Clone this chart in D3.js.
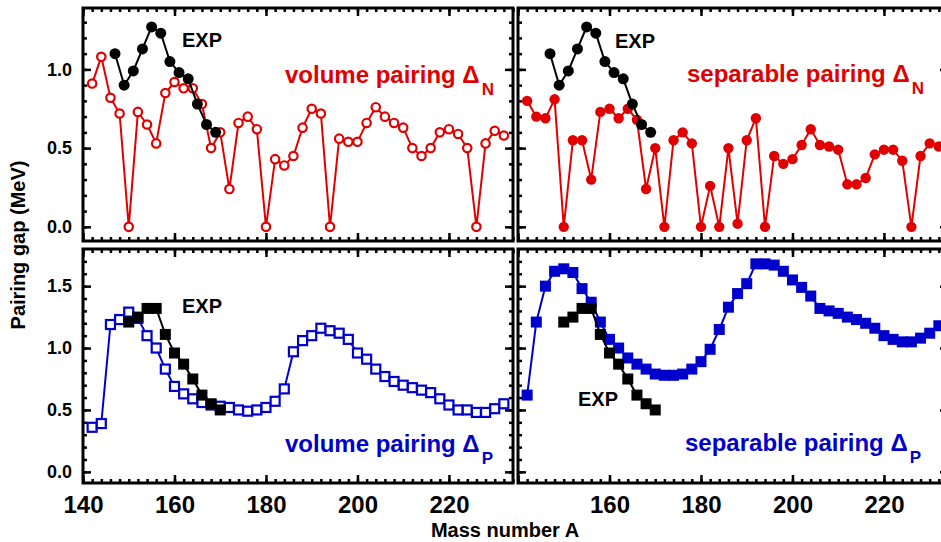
<!DOCTYPE html>
<html>
<head>
<meta charset="utf-8">
<script src="https://cdn.jsdelivr.net/npm/d3@7"></script>
<style>
	body { margin: 0; background: #fff; }
	svg { display: block; font-family: "Liberation Sans", Arial, Helvetica, sans-serif; font-weight: bold; }
</style>
</head>
<body>
<svg id="chart" width="941" height="542"></svg>
<script>
//Mass numbers of the calculated chains and of the experimental points.
var massTheo = [142,144,146,148,150,152,154,156,158,160,162,164,166,168,170,172,174,176,178,180,182,184,186,188,190,
	192,194,196,198,200,202,204,206,208,210,212,214,216,218,220,222,224,226,228,230,232];
var massExpN = [147,149,151,153,155,157,159,161,163,165,167,169];
var massExpP = [150,152,154,156,158,160,162,164,166,168,170];

//Neutron pairing gaps (MeV).
var volumeN = [0.91,1.08,0.82,0.72,0.00,0.73,0.65,0.53,0.85,0.92,0.88,0.88,0.78,0.50,0.60,0.24,0.66,0.70,0.62,0.00,0.43,0.39,
	0.45,0.63,0.75,0.72,0.00,0.56,0.54,0.54,0.66,0.76,0.70,0.66,0.63,0.50,0.45,0.50,0.60,0.62,0.59,0.50,0.00,0.53,0.61,0.58];
var separableN = [0.80,0.70,0.69,0.81,0.00,0.55,0.55,0.30,0.73,0.75,0.69,0.75,0.68,0.24,0.50,0.00,0.55,0.60,0.53,0.00,0.26,0.00,
	0.50,0.02,0.55,0.69,0.00,0.45,0.40,0.43,0.52,0.62,0.52,0.51,0.49,0.27,0.27,0.31,0.46,0.49,0.49,0.42,0.00,0.45,0.53,0.51];
var expN = [1.10,0.90,0.99,1.13,1.27,1.23,1.05,0.98,0.94,0.78,0.65,0.60];

//Proton pairing gaps (MeV).
var volumeP = [0.36,0.39,1.19,1.23,1.29,1.24,1.10,1.00,0.83,0.69,0.63,0.59,0.56,0.54,0.53,0.52,0.50,0.49,0.50,0.52,0.57,0.67,
	0.97,1.06,1.10,1.16,1.14,1.12,1.07,0.96,0.91,0.83,0.77,0.73,0.70,0.68,0.66,0.64,0.59,0.54,0.50,0.50,0.48,0.48,0.51,0.55];
var separableP = [0.62,1.21,1.50,1.62,1.64,1.61,1.48,1.37,1.21,1.07,1.00,0.92,0.87,0.83,0.79,0.78,0.78,0.79,0.83,0.89,0.99,1.15,
	1.33,1.44,1.52,1.68,1.68,1.67,1.62,1.55,1.49,1.42,1.32,1.30,1.28,1.25,1.23,1.20,1.16,1.10,1.07,1.05,1.05,1.08,1.12,1.18];
var expP = [1.21,1.25,1.32,1.32,1.11,0.96,0.87,0.75,0.62,0.55,0.50];

//Tick values.
var xMajor = [140,160,180,200,220];
var yMajorN = [0.0,0.5,1.0];
var yMajorP = [0.0,0.5,1.0,1.5];

var red = "#e00000",
	blue = "#0000cc";

var svg = d3.select("#chart");

var panelWidth = 430;
var cols = [83, 518];
var rows = [{top: 8, bottom: 241, domain: [-0.09, 1.39], major: yMajorN},
	{top: 249, bottom: 483, domain: [-0.09, 1.8], major: yMajorP}];

var panels = [
	{col: 0, row: 0, theo: volumeN, exp: expN, expA: massExpN, shape: "circle", open: true, color: red,
		label: "volume pairing \u0394", sub: "N", lx: 285, ly: 83, ex: 182, ey: 47},
	{col: 1, row: 0, theo: separableN, exp: expN, expA: massExpN, shape: "circle", open: false, color: red,
		label: "separable pairing \u0394", sub: "N", lx: 687, ly: 82, ex: 615, ey: 48},
	{col: 0, row: 1, theo: volumeP, exp: expP, expA: massExpP, shape: "square", open: true, color: blue,
		label: "volume pairing \u0394", sub: "P", lx: 285, ly: 452, ex: 182, ey: 313},
	{col: 1, row: 1, theo: separableP, exp: expP, expA: massExpP, shape: "square", open: false, color: blue,
		label: "separable pairing \u0394", sub: "P", lx: 685, ly: 451, ex: 578, ey: 406}
];

panels.forEach(function(p){
	var r = rows[p.row];
	var left = cols[p.col];
	var x = d3.scaleLinear().domain([140, 234]).range([left, left + panelWidth]);
	var y = d3.scaleLinear().domain(r.domain).range([r.bottom, r.top]);
	var g = svg.append("g");

	//Inward minor and major ticks on all four sides.
	var xMinor = d3.range(140, 235, 2);
	var yMinor = d3.range(0, r.domain[1], 0.1).map(function(v){ return +v.toFixed(1); });
	[["bottom", r.bottom], ["top", r.top]].forEach(function(s){
		var make = s[0] === "bottom" ? d3.axisBottom : d3.axisTop;
		g.append("g").attr("transform", "translate(0," + s[1] + ")")
			.call(make(x).tickValues(xMinor).tickSize(-4).tickFormat(""));
		g.append("g").attr("transform", "translate(0," + s[1] + ")")
			.call(make(x).tickValues(xMajor).tickSize(-8).tickFormat(""));
	});
	[["left", left], ["right", left + panelWidth]].forEach(function(s){
		var make = s[0] === "left" ? d3.axisLeft : d3.axisRight;
		g.append("g").attr("transform", "translate(" + s[1] + ",0)")
			.call(make(y).tickValues(yMinor).tickSize(-4).tickFormat(""));
		g.append("g").attr("transform", "translate(" + s[1] + ",0)")
			.call(make(y).tickValues(r.major).tickSize(-8).tickFormat(""));
	});
	g.selectAll(".domain").remove();
	g.selectAll(".tick line").attr("stroke", "#000").attr("stroke-width", 2.5);

	//Tick labels on the outer axes only.
	if(p.col === 0){
		var yl = g.append("g").attr("transform", "translate(" + left + ",0)")
			.call(d3.axisLeft(y).tickValues(r.major).tickSize(0).tickPadding(11).tickFormat(d3.format(".1f")));
		yl.select(".domain").remove();
		yl.selectAll("text").style("font-size", "18px").attr("fill", "#000");
	}
	if(p.row === 1){
		var xl = g.append("g").attr("transform", "translate(0," + r.bottom + ")")
			.call(d3.axisBottom(x).tickValues(p.col === 0 ? xMajor : xMajor.slice(1)).tickSize(0).tickPadding(13));
		xl.select(".domain").remove();
		xl.selectAll("text").style("font-size", "24px").attr("fill", "#000");
	}

	//Clip the data to the frame.
	var clipId = "clip" + p.col + p.row;
	svg.append("clipPath").attr("id", clipId)
		.append("rect")
		.attr("x", left).attr("y", r.top)
		.attr("width", panelWidth).attr("height", r.bottom - r.top);
	var plot = g.append("g").attr("clip-path", "url(#" + clipId + ")");

	var line = d3.line()
		.x(function(d){ return x(d[0]); })
		.y(function(d){ return y(d[1]); });

	function drawSeries(xs, ys, color, shape, open, size){
		var pts = xs.map(function(a, i){ return [a, ys[i]]; });
		plot.append("path")
			.datum(pts)
			.attr("d", line)
			.attr("fill", "none")
			.attr("stroke", color)
			.attr("stroke-width", 2);
		var sel;
		if(shape === "circle"){
			sel = plot.selectAll(null).data(pts).enter().append("circle")
				.attr("cx", function(d){ return x(d[0]); })
				.attr("cy", function(d){ return y(d[1]); })
				.attr("r", open ? size - 1 : size);
		} else{
			var s = open ? size - 2 : size;
			sel = plot.selectAll(null).data(pts).enter().append("rect")
				.attr("x", function(d){ return x(d[0]) - s / 2; })
				.attr("y", function(d){ return y(d[1]) - s / 2; })
				.attr("width", s)
				.attr("height", s);
		}
		if(open){
			sel.attr("fill", "#fff").attr("stroke", color).attr("stroke-width", 2.2);
		} else{
			sel.attr("fill", color);
		}
	}

	drawSeries(massTheo, p.theo, p.color, p.shape, p.open, p.shape === "circle" ? 5.2 : 11);
	drawSeries(p.expA, p.exp, "#000", p.shape, false, p.shape === "circle" ? 5.5 : 11);

	//Frame.
	g.append("rect")
		.attr("x", left).attr("y", r.top)
		.attr("width", panelWidth).attr("height", r.bottom - r.top)
		.attr("fill", "none")
		.attr("stroke", "#000")
		.attr("stroke-width", 3);

	//Panel labels.
	var t = g.append("text")
		.attr("x", p.lx).attr("y", p.ly)
		.attr("fill", p.color)
		.style("font-size", "24px")
		.text(p.label);
	t.append("tspan")
		.attr("dx", 2).attr("dy", 12)
		.style("font-size", "17px")
		.text(p.sub);

	g.append("text")
		.attr("x", p.ex).attr("y", p.ey)
		.style("font-size", "20px")
		.attr("fill", "#000")
		.text("EXP");
});

//Axis titles.
svg.append("text")
	.attr("x", 505).attr("y", 537)
	.attr("text-anchor", "middle")
	.style("font-size", "20px")
	.text("Mass number A");

svg.append("text")
	.attr("transform", "translate(25,245) rotate(-90)")
	.attr("text-anchor", "middle")
	.style("font-size", "20px")
	.text("Pairing gap (MeV)");
</script>
</body>
</html>
